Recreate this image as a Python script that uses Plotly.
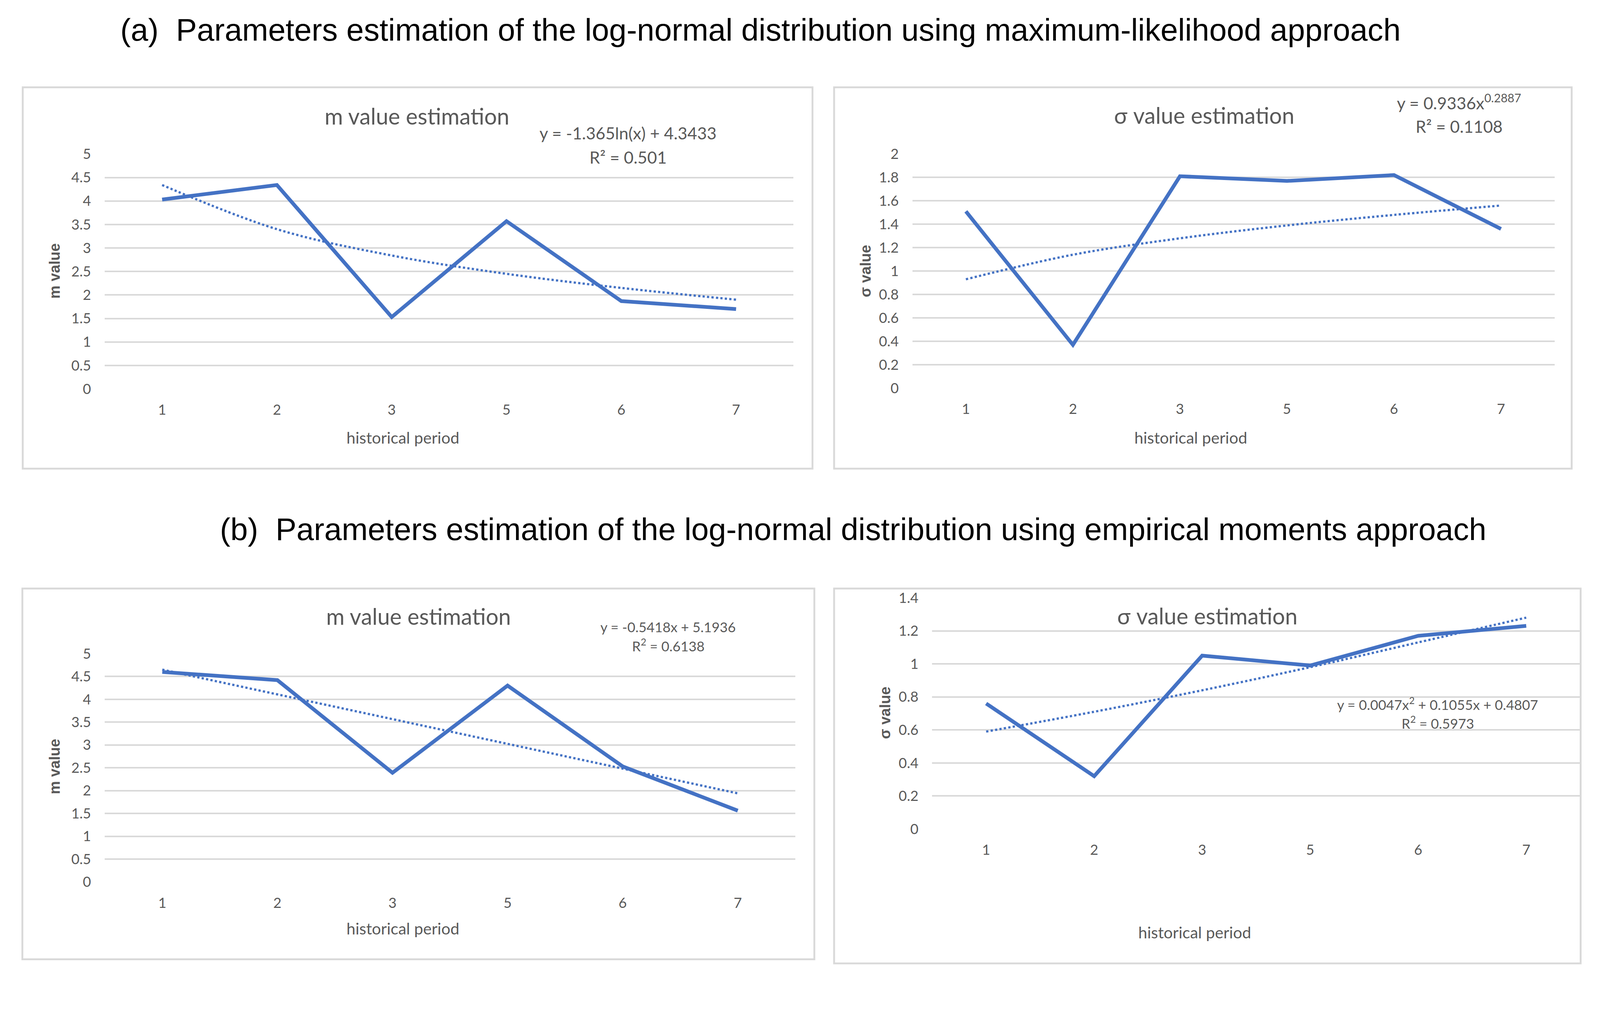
import plotly.graph_objects as go

# reference picture size (all positions below are given in these pixels)
W, H = 4293, 2630
# the browser viewport behaves as 4096 css px wide; draw at that size
K = 4096 / W
FIG_W, FIG_H = 4096, round(H * K)
# small vertical correction measured from a test render
V_OFF, V_SCALE = 20.5, 0.983

# ---------------- data ----------------
categories = ["1", "2", "3", "5", "6", "7"]

ml_m = [4.03, 4.34, 1.53, 3.57, 1.87, 1.70]
ml_m_trend = [4.34, 3.40, 2.84, 2.45, 2.15, 1.90]

ml_sigma = [1.51, 0.37, 1.81, 1.77, 1.82, 1.36]
ml_sigma_trend = [0.93, 1.14, 1.28, 1.39, 1.48, 1.56]

em_m = [4.60, 4.42, 2.39, 4.30, 2.53, 1.56]
em_m_trend = [4.65, 4.11, 3.57, 3.03, 2.48, 1.94]

em_sigma = [0.76, 0.32, 1.05, 0.99, 1.17, 1.23]
em_sigma_trend = [0.59, 0.71, 0.84, 0.98, 1.13, 1.28]

title_a = "(a)  Parameters estimation of the log-normal distribution using maximum-likelihood approach"
title_b = "(b)  Parameters estimation of the log-normal distribution using empirical moments approach"

# ---------------- styling ----------------
BLUE = "#4472C4"
GRID = "#D9D9D9"
TXT = "#595959"
FONT = "Lato"


def s(v):
    return v * K


def px(x):
    return x / W


def py(y):
    return 1 - ((y - V_OFF) / V_SCALE) / H


panels = [
    dict(series=ml_m, trend=ml_m_trend, shape="spline", yr=[0, 5], dt=0.5,
         area=(281, 410, 2129, 1041), box=(61, 231, 2180, 1255),
         title="m value estimation", tpos=(1119, 308),
         eq="y = -1.365ln(x) + 4.3433", eqpos=(1685, 353),
         r2="R² = 0.501", r2pos=(1685, 418), eqsize=45,
         ylab="m value", ylpos=(147, 724), xlpos=(1081, 1172)),
    dict(series=ml_sigma, trend=ml_sigma_trend, shape="spline", yr=[0, 2], dt=0.2,
         area=(2448, 410, 4171, 1039), box=(2238, 231, 4217, 1255),
         title="σ value estimation", tpos=(3231, 306),
         eq="y = 0.9336x<sup>0.2887</sup>", eqpos=(3915, 270),
         r2="R² = 0.1108", r2pos=(3915, 336), eqsize=45,
         ylab="σ value", ylpos=(2322, 724), xlpos=(3195, 1172)),
    dict(series=em_m, trend=em_m_trend, shape="linear", yr=[0, 5], dt=0.5,
         area=(281, 1752, 2134, 2365), box=(60, 1577, 2185, 2573),
         title="m value estimation", tpos=(1123, 1651),
         eq="y = -0.5418x + 5.1936", eqpos=(1793, 1680),
         r2="R<sup>2</sup> = 0.6138", r2pos=(1793, 1729), eqsize=37,
         ylab="m value", ylpos=(147, 2055), xlpos=(1081, 2490)),
    dict(series=em_sigma, trend=em_sigma_trend, shape="spline", yr=[0, 1.4], dt=0.2,
         area=(2501, 1602, 4240, 2223), box=(2238, 1577, 4241, 2584),
         title="σ value estimation", tpos=(3240, 1650),
         eq="y = 0.0047x<sup>2</sup> + 0.1055x + 0.4807", eqpos=(3858, 1887),
         r2="R<sup>2</sup> = 0.5973", r2pos=(3858, 1937), eqsize=37,
         ylab="σ value", ylpos=(2375, 1911), xlpos=(3206, 2500)),
]

fig = go.Figure()
annotations = []
shapes = []
layout_axes = {}


def ann(text, pos, size, color=TXT, family=FONT, angle=0):
    annotations.append(dict(
        text=text, x=px(pos[0]), y=py(pos[1]), xref="paper", yref="paper",
        xanchor="center", yanchor="middle", showarrow=False, textangle=angle,
        font=dict(family=family, size=s(size), color=color)))


for i, p in enumerate(panels, start=1):
    xa = "x" if i == 1 else f"x{i}"
    ya = "y" if i == 1 else f"y{i}"
    l, t, r, b = p["area"]
    fig.add_trace(go.Scatter(
        x=categories, y=p["series"], mode="lines", xaxis=xa, yaxis=ya,
        line=dict(color=BLUE, width=s(10)), showlegend=False, hoverinfo="skip"))
    fig.add_trace(go.Scatter(
        x=categories, y=p["trend"], mode="lines", xaxis=xa, yaxis=ya,
        line=dict(color=BLUE, width=s(6), dash="dot", shape=p["shape"]),
        showlegend=False, hoverinfo="skip"))

    xkey = "xaxis" if i == 1 else f"xaxis{i}"
    ykey = "yaxis" if i == 1 else f"yaxis{i}"
    layout_axes[xkey] = dict(
        domain=[px(l), px(r)], anchor=ya, type="category",
        categoryorder="array", categoryarray=categories,
        range=[-0.5, len(categories) - 0.5], showgrid=False, zeroline=False,
        showline=False, ticks="", ticklabelstandoff=round(s(30)),
        tickfont=dict(family=FONT, size=s(38), color=TXT))
    layout_axes[ykey] = dict(
        domain=[py(b), py(t)], anchor=xa, range=p["yr"], dtick=p["dt"],
        tick0=0, showgrid=True, gridcolor=GRID, gridwidth=s(4),
        zeroline=False, showline=False, ticks="", ticklabelstandoff=round(s(36)),
        tickfont=dict(family=FONT, size=s(38), color=TXT))

    bl, bt, br, bb = p["box"]
    shapes.append(dict(type="rect", xref="paper", yref="paper",
                       x0=px(bl), x1=px(br), y0=py(bb), y1=py(bt),
                       line=dict(color=GRID, width=s(5)), layer="below"))

    ann(p["title"], p["tpos"], 60)
    ann(p["eq"], p["eqpos"], p["eqsize"])
    ann(p["r2"], p["r2pos"], p["eqsize"])
    ann("historical period", p["xlpos"], 43)
    ann("<b>" + p["ylab"] + "</b>", p["ylpos"], 40, family="Liberation Sans", angle=-90)

ann(title_a, (2041, 76), 84, color="#000000", family="Liberation Sans")
ann(title_b, (2289, 1418), 84, color="#000000", family="Liberation Sans")

fig.update_layout(
    width=FIG_W, height=FIG_H, margin=dict(l=0, r=0, t=0, b=0),
    paper_bgcolor="white", plot_bgcolor="white",
    annotations=annotations, shapes=shapes, **layout_axes)

fig.write_html("out.html", config={"displayModeBar": False},
               post_script="document.body.style.margin='0px';")
